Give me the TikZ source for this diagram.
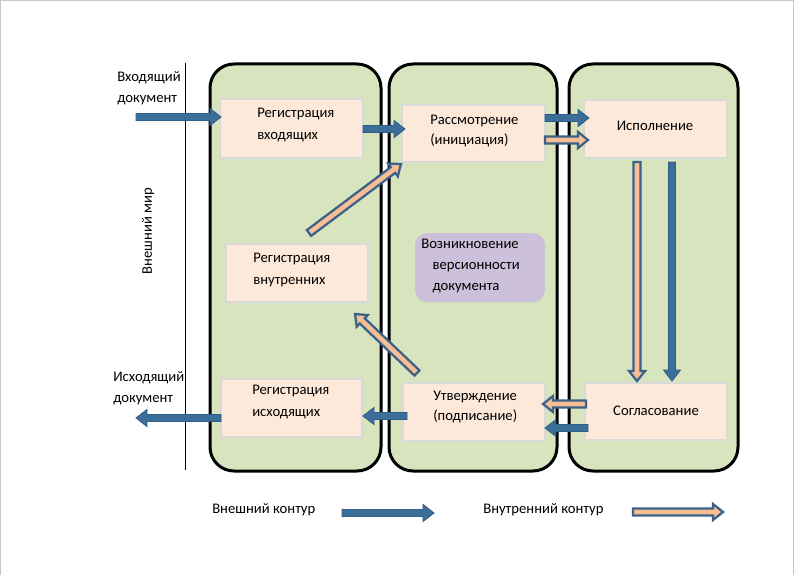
\documentclass[tikz,border=0pt]{standalone}
\usepackage{fontspec}
\setmainfont{Carlito}
\usetikzlibrary{calc}
\definecolor{colgreen}{HTML}{D7E4BD}
\definecolor{boxfill}{HTML}{FDE9D9}
\definecolor{boxline}{HTML}{D9D9D9}
\definecolor{purp}{HTML}{CCC0DA}
\definecolor{bluefill}{HTML}{3C6E9A}
\definecolor{blueline}{HTML}{2F5C88}
\definecolor{peachline}{HTML}{3B6289}
\definecolor{peach}{HTML}{F8BF94}
\definecolor{framegray}{HTML}{C8C8C8}
\newcommand\bkshaft{2.6pt}
\newcommand\bkhead{6.4pt}
\newcommand\bklen{8.2pt}
\newcommand\blkarrow[3][]{%
  \coordinate (hb) at ($(#3)!\bklen!(#2)$);
  \path[#1] ($(#2)!\bkshaft!90:(#3)$) -- ($(hb)!\bkshaft!90:(#3)$) -- ($(hb)!\bkhead!90:(#3)$) -- (#3) -- ($(hb)!\bkhead!-90:(#3)$) -- ($(hb)!\bkshaft!-90:(#3)$) -- ($(#2)!\bkshaft!-90:(#3)$) -- cycle;}
\begin{document}
\begin{tikzpicture}[x=0.75pt,y=-0.75pt,
  column/.style={draw=black,line width=2.25pt,fill=colgreen,rounded corners=18pt},
  stagebox/.style={draw=boxline,line width=1.5pt,fill=boxfill,inner sep=0pt},
  notebox/.style={draw=none,fill=purp,rounded corners=9pt,inner sep=0pt},
  txt/.style={inner sep=0pt,align=left,font=\fontsize{11}{16.5}\selectfont},
  txtb/.style={inner sep=0pt,align=left,font=\fontsize{11}{15.5}\selectfont},
  bluearr/.style={fill=bluefill,draw=blueline,line width=0.6pt,line join=miter},
  peacharr/.style={fill=peach,draw=peachline,line width=1.7pt,line join=miter}]
\useasboundingbox (0,0) rectangle (795,574);
% frame
\draw[framegray,line width=0.75pt] (0.5,580) -- (0.5,0.5) -- (793.5,0.5) -- (793.5,580);
% boundary line
\coordinate (lt) at (185,63);
\coordinate (lb) at (185,470);
\draw[black,line width=0.75pt] (lt) -- (lb);
% columns
\node[column,minimum width={171*0.75pt},minimum height={407*0.75pt}] (c1) at (295.5,267.5) {};
\node[column,minimum width={168*0.75pt},minimum height={407*0.75pt}] (c2) at (473,267.5) {};
\node[column,minimum width={169*0.75pt},minimum height={407*0.75pt}] (c3) at (653.5,267.5) {};
% boxes
\node[stagebox,minimum width={143*0.75pt},minimum height={59*0.75pt}] (rin) at (291.5,128.5) {};
\node[stagebox,minimum width={143*0.75pt},minimum height={57*0.75pt}] (ras) at (473.5,133.5) {};
\node[stagebox,minimum width={143*0.75pt},minimum height={58*0.75pt}] (isp) at (655.5,129) {};
\node[stagebox,minimum width={142*0.75pt},minimum height={58*0.75pt}] (rvn) at (297,273) {};
\node[notebox,minimum width={130*0.75pt},minimum height={69*0.75pt}] (voz) at (480,267.5) {};
\node[stagebox,minimum width={141*0.75pt},minimum height={58*0.75pt}] (rish) at (291.5,408) {};
\node[stagebox,minimum width={142*0.75pt},minimum height={58*0.75pt}] (utv) at (474,412) {};
\node[stagebox,minimum width={142*0.75pt},minimum height={57*0.75pt}] (sog) at (656,411.5) {};
% texts
\node[txt,anchor=west] (rin-t) at (257,125) {Регистрация\\входящих};
\node[txtb,anchor=west] (ras-t) at (430,131) {Рассмотрение\\(инициация)};
\node[txt] (isp-t) at (655,126) {Исполнение};
\node[txt,anchor=west] (rvn-t) at (253,270) {Регистрация\\внутренних};
\node[txtb,anchor=west] (voz-t) at (421,266) {Возникновение\\\hspace*{8.5pt}версионности\\\hspace*{8.5pt}документа};
\node[txt,anchor=west] (rish-t) at (252,402) {Регистрация\\исходящих};
\node[txtb,anchor=west] (utv-t) at (433,407) {Утверждение\\(подписание)};
\node[txt] (sog-t) at (656,411) {Согласование};
\node[txtb,anchor=west] (in-t) at (117,88) {Входящий\\документ};
\node[txtb,anchor=west] (out-t) at (113,388) {Исходящий\\документ};
\node[txt,rotate=90] (world) at (148,231) {Внешний мир};
\node[txt,anchor=west] (lg1) at (212,510) {Внешний контур};
\node[txt,anchor=west] (lg2) at (483,510) {Внутренний контур};
% arrow end points
\coordinate (a1s) at (136,117); \coordinate (a1e) at (221,117);
\coordinate (a2s) at (363,129); \coordinate (a2e) at (405,129);
\coordinate (a3s) at (545,118); \coordinate (a3e) at (589,118);
\coordinate (a4s) at (545,140); \coordinate (a4e) at (588,140);
\coordinate (a5s) at (309,233); \coordinate (a5e) at (401,164);
\coordinate (a6s) at (672,162); \coordinate (a6e) at (672,381);
\coordinate (a7s) at (637,162); \coordinate (a7e) at (637,381);
\coordinate (a8s) at (586,404); \coordinate (a8e) at (543,404);
\coordinate (a9s) at (588,428); \coordinate (a9e) at (545,428);
\coordinate (a10s) at (407,416); \coordinate (a10e) at (363,416);
\coordinate (a11s) at (221,418); \coordinate (a11e) at (136,418);
\coordinate (a12s) at (417,373); \coordinate (a12e) at (355,314);
\coordinate (l1s) at (342,513); \coordinate (l1e) at (434,513);
\coordinate (l2s) at (633,512); \coordinate (l2e) at (723,512);
% outer-loop arrows
\blkarrow[bluearr]{a1s}{a1e}
\blkarrow[bluearr]{a2s}{a2e}
\blkarrow[bluearr]{a3s}{a3e}
\blkarrow[bluearr]{a6s}{a6e}
\blkarrow[bluearr]{a9s}{a9e}
\blkarrow[bluearr]{a10s}{a10e}
\blkarrow[bluearr]{a11s}{a11e}
\blkarrow[bluearr]{l1s}{l1e}
% inner-loop arrows
\begin{scope}
\renewcommand\bkshaft{2.7pt}
\renewcommand\bkhead{6pt}
\renewcommand\bklen{7.5pt}
\blkarrow[peacharr]{a4s}{a4e}
\blkarrow[peacharr]{a5s}{a5e}
\blkarrow[peacharr]{a7s}{a7e}
\blkarrow[peacharr]{a8s}{a8e}
\blkarrow[peacharr]{a12s}{a12e}
\blkarrow[peacharr]{l2s}{l2e}
\end{scope}
\end{tikzpicture}
\end{document}
